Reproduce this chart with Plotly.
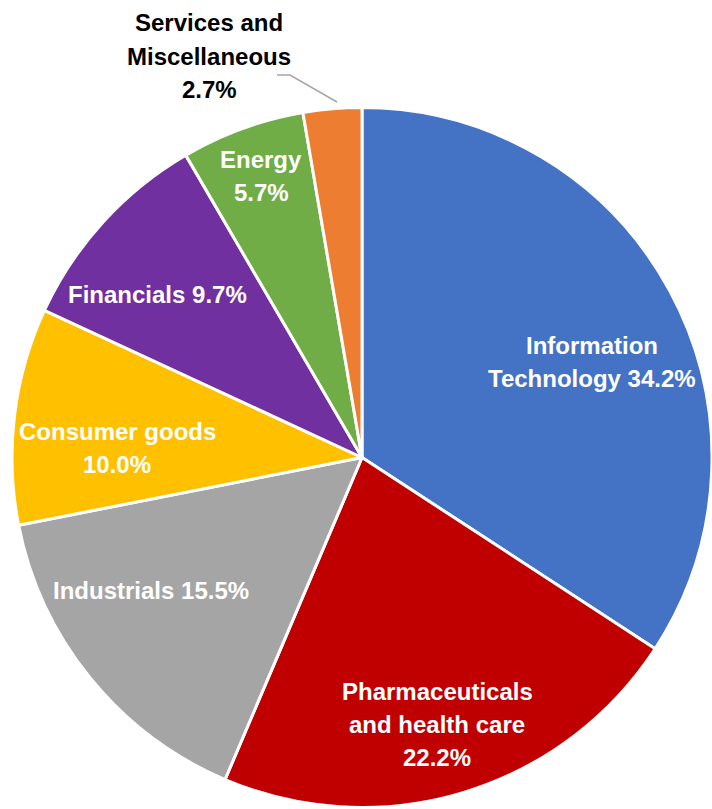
import plotly.graph_objects as go

sectors = ["Information Technology", "Pharmaceuticals and health care", "Industrials",
           "Consumer goods", "Financials", "Energy", "Services and Miscellaneous"]
shares = [34.2, 22.2, 15.5, 10.0, 9.7, 5.7, 2.7]
colors = ["#4472C4", "#C00000", "#A5A5A5", "#FFC000", "#7030A0", "#70AD47", "#ED7D31"]
label_lines = [["Information", "Technology 34.2%"],
               ["Pharmaceuticals", "and health care", "22.2%"],
               ["Industrials 15.5%"],
               ["Consumer goods", "10.0%"],
               ["Financials 9.7%"],
               ["Energy", "5.7%"],
               ["Services and", "Miscellaneous", "2.7%"]]
label_px = [(592, 362), (437, 724), (151, 590), (117, 448), (157, 294), (261, 176), (209, 56)]

W, H = 712, 809
LINE = 33
FONT = "Liberation Sans, Arial, sans-serif"

fig = go.Figure(go.Pie(
    labels=sectors, values=shares, sort=False, direction="clockwise", rotation=0,
    marker=dict(colors=colors, line=dict(color="white", width=3)),
    textinfo="none", hoverinfo="skip", showlegend=False,
    domain=dict(x=[12 / W, 1], y=[0, 1 - 106 / H]),
))

annotations = []
for i, (lines, (px, py)) in enumerate(zip(label_lines, label_px)):
    n = len(lines)
    for k, ln in enumerate(lines):
        yy = py + (k - (n - 1) / 2) * LINE
        annotations.append(dict(
            text="<b>" + ln + "</b>", x=px / W, y=1 - yy / H, xref="paper", yref="paper",
            showarrow=False, xanchor="center", yanchor="middle", align="center",
            font=dict(family=FONT, size=24, color="black" if i == 6 else "white"),
        ))

def p(x, y):
    return f"{x / W},{1 - y / H}"

fig.update_layout(
    width=W, height=H, margin=dict(l=0, r=0, t=0, b=0),
    paper_bgcolor="white", plot_bgcolor="white",
    annotations=annotations,
    shapes=[dict(type="path", xref="paper", yref="paper",
                 path=f"M{p(277, 75)} L{p(290, 75)} L{p(337, 102)}",
                 line=dict(color="#A5A5A5", width=1.5))],
)

fig.write_html("out.html")
